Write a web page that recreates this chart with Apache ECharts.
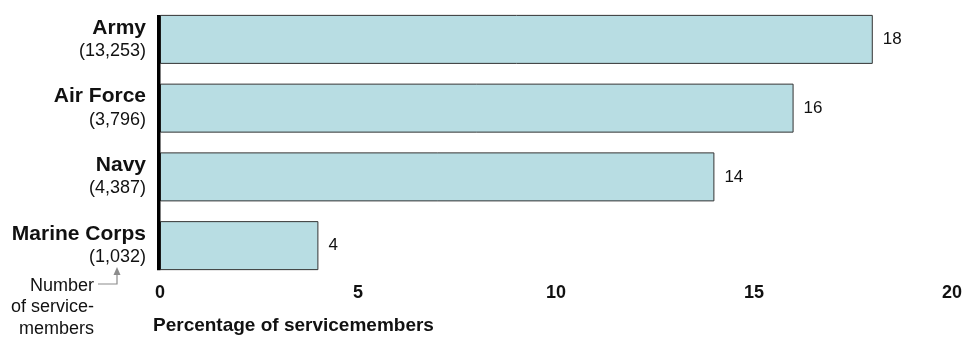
<!DOCTYPE html>
<html>
<head>
<meta charset="utf-8">
<script src="https://cdn.jsdelivr.net/npm/echarts@6/dist/echarts.min.js"></script>
<style>
  html, body { margin: 0; padding: 0; background: #fff; }
  #box { width: 965px; height: 337px; }
</style>
</head>
<body>
<div id="box"></div>
<script>
  // data
  var branches = ['Army', 'Air Force', 'Navy', 'Marine Corps'];
  var counts = ['13,253', '3,796', '4,387', '1,032'];
  var percents = [18, 16, 14, 4];
  var xTicks = [0, 5, 10, 15, 20];

  var font = '"Liberation Sans", Arial, sans-serif';
  var barH = 49;

  var chartDom = document.getElementById('box');
  var myChart = echarts.init(chartDom);

  var option = {
    animation: false,
    title: {
      text: 'Percentage of servicemembers',
      left: 148,
      top: 311,
      textStyle: { fontFamily: font, fontSize: 19, fontWeight: 'bold', color: '#111' }
    },
    grid: { left: 160, right: 10, top: 5, bottom: 57 },
    xAxis: {
      type: 'value',
      min: xTicks[0],
      max: xTicks[xTicks.length - 1],
      interval: 5,
      axisLine: { show: false },
      axisTick: { show: false },
      splitLine: { show: false },
      axisLabel: {
        margin: 4,
        fontFamily: font, fontSize: 18, fontWeight: 'bold', color: '#111'
      }
    },
    yAxis: {
      type: 'category',
      inverse: true,
      data: branches,
      axisLine: { show: false },
      axisTick: { show: false },
      axisLabel: {
        margin: 14,
        formatter: function (v, i) {
          return '{b|' + v + '}\n{n|(' + counts[i] + ')}';
        },
        rich: {
          b: { fontFamily: font, fontSize: 21, fontWeight: 'bold', color: '#111', lineHeight: 23, align: 'right' },
          n: { fontFamily: font, fontSize: 18, color: '#111', lineHeight: 23, align: 'right' }
        }
      }
    },
    series: [{
      type: 'bar',
      data: percents,
      barWidth: barH,
      itemStyle: { color: '#b8dde3', borderColor: '#333', borderWidth: 1 },
      label: {
        show: true,
        position: 'right',
        distance: 10,
        fontFamily: font, fontSize: 17, color: '#111'
      }
    }]
  };

  myChart.setOption(option);

  // thick axis line spanning the bars, from the chart's own scales
  var x0 = myChart.convertToPixel({ xAxisIndex: 0 }, 0);
  var yFirst = myChart.convertToPixel({ yAxisIndex: 0 }, branches[0]);
  var yLast = myChart.convertToPixel({ yAxisIndex: 0 }, branches[branches.length - 1]);

  myChart.setOption({
    graphic: [
      {
        type: 'rect',
        shape: { x: x0 - 3, y: yFirst - barH / 2, width: 3.5, height: (yLast - yFirst) + barH },
        style: { fill: '#000' },
        z: 100
      },
      {
        type: 'text',
        x: 94,
        y: 275,
        style: {
          text: 'Number\nof service-\nmembers',
          textAlign: 'right',
          font: '18px ' + font,
          fill: '#111',
          lineHeight: 21.5
        }
      },
      {
        type: 'polyline',
        shape: { points: [[98, 284], [117, 284], [117, 274]] },
        style: { stroke: '#8c8c8c', lineWidth: 1.2, fill: null }
      },
      {
        type: 'polygon',
        shape: { points: [[113.5, 275], [120.5, 275], [117, 267]] },
        style: { fill: '#8c8c8c' }
      }
    ]
  });
</script>
</body>
</html>
